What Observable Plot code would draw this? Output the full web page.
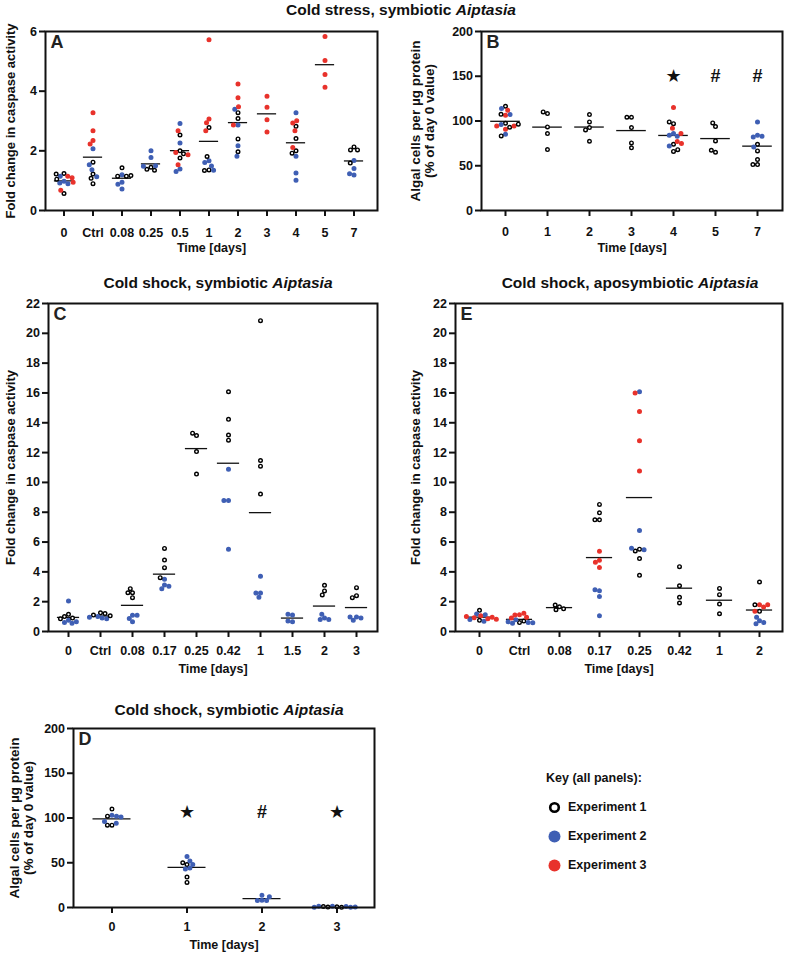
<!DOCTYPE html>
<html><head><meta charset="utf-8">
<script src="https://cdn.jsdelivr.net/npm/d3@7"></script>
<script src="https://cdn.jsdelivr.net/npm/@observablehq/plot@0.6"></script>
<style>
body{margin:0;background:#fff;width:787px;height:955px;position:relative;overflow:hidden;font-family:"Liberation Sans",Arial,sans-serif;color:#111;}
.panel{position:absolute;}
.panel svg{position:absolute;left:0;top:0;overflow:visible;}
.title{position:absolute;font-weight:bold;font-size:15.5px;white-space:nowrap;transform:translate(-50%,-50%);}
.key{position:absolute;left:546px;top:771px;font-weight:bold;font-size:12.5px;}
.key .row{position:absolute;left:0;white-space:nowrap;display:flex;align-items:center;}
</style></head><body>
<script>
// ---------- DATA ----------
const BLUE = "#3f5fb4", RED = "#e8322b";
const expNames = ["Experiment 1", "Experiment 2", "Experiment 3"];

// Panel A: cold stress, caspase
const catsA = ["0","Ctrl","0.08","0.25","0.5","1","2","3","4","5","7"];
const A_exp1 = [[1.24,1.22,0.57,1.05],[1.62,1.22,1.08,0.90],[1.43,1.15,1.15,1.17],[1.45,1.38,1.35],[2.53,2.00,1.90,1.76],[2.78,1.81,1.36,1.34],[3.28,3.08,2.40,1.97],[],[2.82,2.41,2.00,1.92],[],[2.13,2.03,2.03,1.59]];
const A_exp2 = [[1.15,0.98,0.92,0.90],[2.07,1.53,1.37,1.13],[1.20,0.95,0.88,0.72],[2.00,1.78,1.50,1.48],[2.92,2.26,1.39,1.31],[1.67,1.61,1.49,1.35],[3.39,2.87,2.17,1.82],[],[3.28,1.82,1.26,1.01],[],[1.68,1.41,1.19,1.23]];
const A_exp3 = [[1.15,1.10,0.68,0.95],[3.28,2.67,2.35,2.23],[],[],[2.67,1.94,1.87,1.53],[5.72,3.07,2.94,2.67],[4.24,3.78,3.48,2.87],[3.83,3.46,3.04,2.63],[2.93,3.01,2.67,2.11],[5.83,5.03,4.56,4.13],[]];

// Panel B: cold stress, algal cells
const catsB = ["0","1","2","3","4","5","7"];
const B_exp1 = [[116.5,107.5,97.5,93,83.3,96.4],[108.3,110.1,93.4,85.9,68.1],[99,107.2,92.6,90,77.4],[104.2,104.2,92.6,75.5,70],[97,99,74,66,68],[93.8,97.9,77.7,65.1,67.3],[74,66.6,56.9,51.3,51.3]];
const B_exp2 = [[113.9,107.2,96,85.2],[],[],[],[86,84,83,72],[],[99,84,82,83,71]];
const B_exp3 = [[106.4,112,90.8,94.5,94.5],[],[],[],[115,92,86,77,75],[],[]];
const B_markCats = ["4","5","7"];
const B_markSyms = ["★","#","#"];

// Panel C: cold shock symbiotic, caspase
const catsC = ["0","Ctrl","0.08","0.17","0.25","0.42","1","1.5","2","3"];
const C_exp1 = [[1.15,1.0,0.9,0.85],[1.25,1.2,1.1,1.05],[2.6,2.87,2.27,2.6],[5.57,4.79,4.28,3.61],[13.14,13.3,12.07,10.56],[16.08,14.23,13.18,12.83],[20.85,11.47,11.09,9.22],[],[3.1,2.72,2.45],[2.94,2.4,2.27]];
const C_exp2 = [[2.05,0.75,0.6,0.55,0.65],[1.0,0.9,0.85,0.95],[1.09,0.65,0.87,1.09],[3.12,2.87,3.5,3.03],[],[10.89,8.78,8.78,5.52],[3.7,2.58,2.29,2.58],[1.1,1.15,0.65,0.7],[0.91,0.8,0.8,1.16],[0.98,0.76,0.91,0.98]];

// Panel E: cold shock aposymbiotic, caspase
const catsE = ["0","Ctrl","0.08","0.17","0.25","0.42","1","2"];
const E_exp1 = [[1.42,0.75],[0.6,0.7],[1.66,1.46,1.52,1.77],[8.52,7.96,7.49,7.49],[5.52,5.4,4.89,3.77],[4.35,3.07,2.29,1.91],[2.89,2.47,1.84,1.19],[3.32,1.79,1.35]];
const E_exp2 = [[1.18,1.12,0.68,0.8],[0.78,0.56,0.6,0.65,0.58],[],[2.74,2.8,2.35,1.05],[16.08,6.77,5.49,5.58],[],[],[0.72,0.52,0.6,0.96]];
const E_exp3 = [[1.05,0.92,0.85,0.95,1.0,0.82],[1.12,1.1,1.22,0.95,0.9],[],[5.38,4.78,4.64,4.3],[15.99,14.75,12.8,10.76],[],[],[1.79,1.65,1.79,1.35]];

// Panel D: cold shock symbiotic, algal cells
const catsD = ["0","1","2","3"];
const D_exp1 = [[110,102,92,92],[48,50,34,28],[],[0.8,0.2,0.5,1.0]];
const D_exp2 = [[103,102,101,94,96],[57,52,48,44,43],[13.7,8.1,7.8,7.8,11.9],[1.5,1.2,0.3,0.5,1.3,0.4]];
const D_markCats = ["1","2","3"];
const D_markSyms = ["★","#","★"];

const ticksCaspaseA = [0,2,4,6];
const ticksCaspaseCE = [0,2,4,6,8,10,12,14,16,18,20,22];
const ticksAlgae = [0,50,100,150,200];

// ---------- HELPERS ----------
function buildRows(cats, exps) {
  const out = [];
  cats.forEach((c, i) => {
    const maxLen = Math.max(...exps.map(e => (e && e[i]) ? e[i].length : 0));
    for (let j = 0; j < maxLen; j++) {
      exps.forEach((e, k) => {
        if (e && e[i] && j < e[i].length) out.push({cat: c, v: e[i][j], exp: k + 1});
      });
    }
  });
  return out;
}
const fillOf = d => d.exp === 1 ? "white" : d.exp === 2 ? BLUE : RED;
const strokeOf = d => d.exp === 1 ? "black" : d.exp === 2 ? BLUE : RED;
const FONT = "'Liberation Sans', Arial, sans-serif";

function panel(cfg) {
  const {left, top, width, height, frame, band, cats, rows, yDomain, yTicks, letter, ylabel, ylabelDx, ylabelSize, inset, tickPadding, markCats, markSyms, markY, dodgePad} = cfg;
  const div = document.createElement("div");
  div.className = "panel";
  div.style.cssText = `left:${left}px;top:${top}px;width:${width}px;height:${height}px;`;
  const [fl, fr, ft, fb] = frame;
  const [bl, br] = band;
  const style = {fontFamily: FONT, fontSize: "12.5px", fontWeight: "bold", color: "#111", background: "transparent", overflow: "visible"};
  const markRows = markCats ? markCats.map((c, i) => ({cat: c, sym: markSyms[i]})) : [];
  const dataPlot = Plot.plot({
    width, height,
    marginLeft: bl - left, marginRight: left + width - br,
    marginTop: ft - top, marginBottom: top + height - fb,
    style,
    fx: {domain: cats, padding: 0},
    y: {domain: yDomain, axis: null},
    marks: [
      Plot.axisFx({anchor: "bottom", tickSize: 6, tickPadding, strokeWidth: 2, label: null, fontSize: 12.5}),
      Plot.tickY(rows, Plot.groupZ({y: "mean"}, {fx: "cat", y: "v", stroke: "#111", strokeWidth: 1.3, insetLeft: inset, insetRight: inset})),
      Plot.dot(rows, Plot.dodgeX("middle", {fx: "cat", y: "v", r: 1.8, padding: dodgePad ?? 5, fill: fillOf, stroke: strokeOf, strokeWidth: 1.4})),
      Plot.text(markRows, {fx: "cat", y: () => markY, text: "sym", fontSize: 18, fontFamily: "'Liberation Sans', 'DejaVu Sans', sans-serif", fontWeight: "bold", fill: "#111"})
    ]
  });
  const framePlot = Plot.plot({
    width, height,
    marginLeft: fl - left, marginRight: left + width - fr,
    marginTop: ft - top, marginBottom: top + height - fb,
    style,
    y: {domain: yDomain},
    marks: [
      Plot.axisY({ticks: yTicks, tickFormat: d3.format("d"), tickSize: 6, tickPadding: 2.5, strokeWidth: 2, label: null, fontSize: 12.5}),
      Plot.frame({stroke: "#111", strokeWidth: 2}),
      Plot.text([ylabel], {frameAnchor: "left", dx: ylabelDx, rotate: -90, textAnchor: "middle", lineAnchor: "middle", text: d => d, fontSize: ylabelSize, lineHeight: 1.05, fill: "#111"}),
      Plot.text([letter], {frameAnchor: "top-left", dx: 5, dy: 4, textAnchor: "start", lineAnchor: "top", text: d => d, fontSize: 18, fill: "#222"}),
      Plot.text(["Time [days]"], {frameAnchor: "bottom", dy: 41, text: d => d, fontSize: 12.5, fill: "#111"})
    ]
  });
  div.appendChild(dataPlot);
  div.appendChild(framePlot);
  document.body.appendChild(div);
}

function title(x, y, html) {
  const t = document.createElement("div");
  t.className = "title";
  t.style.left = x + "px"; t.style.top = y + "px";
  t.innerHTML = html;
  document.body.appendChild(t);
}

// ---------- PANELS ----------
title(401, 10, "Cold stress, symbiotic <i>Aiptasia</i>");
title(218, 283, "Cold shock, symbiotic <i>Aiptasia</i>");
title(630, 283, "Cold shock, aposymbiotic <i>Aiptasia</i>");
title(229, 710, "Cold shock, symbiotic <i>Aiptasia</i>");

panel({left: 0, top: 0, width: 390, height: 260, frame: [45, 377, 31, 210], band: [45, 372],
  cats: catsA, rows: buildRows(catsA, [A_exp1, A_exp2, A_exp3]), yDomain: [0, 6], yTicks: ticksCaspaseA,
  letter: "A", ylabel: "Fold change in caspase activity", ylabelDx: -35, ylabelSize: 13, inset: 4.9, tickPadding: 11.5, dodgePad: 4.5});

panel({left: 390, top: 0, width: 397, height: 260, frame: [481, 782, 31, 210], band: [483, 779],
  cats: catsB, rows: buildRows(catsB, [B_exp1, B_exp2, B_exp3]), yDomain: [0, 200], yTicks: ticksAlgae,
  letter: "B", ylabel: "Algal cells per µg protein\n(% of day 0 value)", ylabelDx: -59, ylabelSize: 13.5, inset: 6.2, tickPadding: 11, dodgePad: 5,
  markCats: B_markCats, markSyms: B_markSyms, markY: 150});

panel({left: 0, top: 270, width: 390, height: 410, frame: [48, 377, 303, 631], band: [48, 376],
  cats: catsC, rows: buildRows(catsC, [C_exp1, C_exp2]), yDomain: [0, 22], yTicks: ticksCaspaseCE,
  letter: "C", ylabel: "Fold change in caspase activity", ylabelDx: -38, ylabelSize: 13, inset: 4.9, tickPadding: 8.5, dodgePad: 5});

panel({left: 390, top: 270, width: 397, height: 410, frame: [455, 782, 303, 631], band: [455, 782],
  cats: catsE, rows: buildRows(catsE, [E_exp1, E_exp2, E_exp3]), yDomain: [0, 22], yTicks: ticksCaspaseCE,
  letter: "E", ylabel: "Fold change in caspase activity", ylabelDx: -40, ylabelSize: 13, inset: 6.9, tickPadding: 8.5, dodgePad: 5});

panel({left: 0, top: 690, width: 400, height: 265, frame: [73, 374, 728, 907], band: [73, 374],
  cats: catsD, rows: buildRows(catsD, [D_exp1, D_exp2]), yDomain: [0, 200], yTicks: ticksAlgae,
  letter: "D", ylabel: "Algal cells per µg protein\n(% of day 0 value)", ylabelDx: -52, ylabelSize: 13.5, inset: 18.5, tickPadding: 9, dodgePad: 5,
  markCats: D_markCats, markSyms: D_markSyms, markY: 106});

// ---------- KEY ----------
const key = document.createElement("div");
key.className = "key";
let html = `<div class="row" style="top:0px">Key (all panels):</div>`;
const keyStyles = [
  `<circle cx="6.5" cy="6.5" r="4.3" fill="white" stroke="black" stroke-width="2.6"/>`,
  `<circle cx="6.5" cy="6.5" r="6" fill="${BLUE}"/>`,
  `<circle cx="6.5" cy="6.5" r="6" fill="${RED}"/>`
];
expNames.forEach((n, i) => {
  html += `<div class="row" style="top:${29 + i * 29}px;left:2px"><svg width="13" height="13" style="margin-right:7px">${keyStyles[i]}</svg><span>${n}</span></div>`;
});
key.innerHTML = html;
document.body.appendChild(key);
</script>
</body></html>
